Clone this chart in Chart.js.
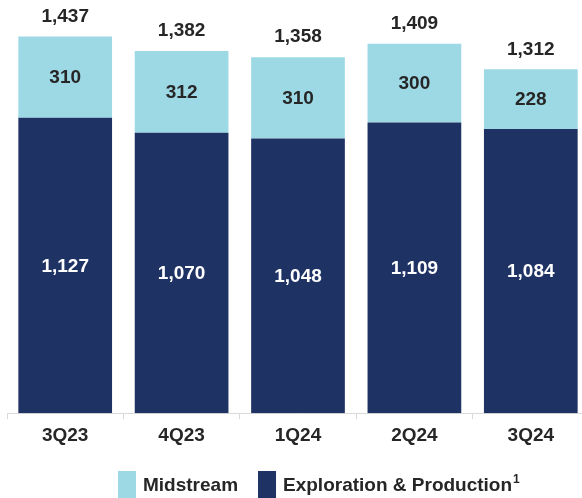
<!DOCTYPE html>
<html>
<head>
<meta charset="utf-8">
<script src="https://cdn.jsdelivr.net/npm/chart.js@4"></script>
<style>
  body { margin: 0; background: #fff; overflow: hidden; }
  #wrap { width: 590px; height: 498px; position: relative; }
</style>
</head>
<body>
<div id="wrap"><canvas id="segmentChart"></canvas></div>
<script>
const quarters = ['3Q23', '4Q23', '1Q24', '2Q24', '3Q24'];
const explorationProduction = [1127, 1070, 1048, 1109, 1084];
const midstream = [310, 312, 310, 300, 228];

const navy = '#1f3264';
const lightBlue = '#9dd8e5';
const textColor = '#262626';
const fontFamily = '"Liberation Sans", Arial, sans-serif';

Chart.defaults.font.family = fontFamily;
Chart.defaults.font.size = 19;
Chart.defaults.font.weight = 'bold';
Chart.defaults.color = textColor;

const fmt = v => v.toLocaleString('en-US');

// numbers inside each segment plus the total on top
const barLabels = {
  id: 'barLabels',
  afterDatasetsDraw(chart) {
    const ctx = chart.ctx;
    ctx.save();
    ctx.font = 'bold 19px ' + fontFamily;
    ctx.textAlign = 'center';
    ctx.textBaseline = 'middle';
    chart.data.datasets.forEach((ds, i) => {
      chart.getDatasetMeta(i).data.forEach((bar, j) => {
        ctx.fillStyle = ds.labelColor;
        ctx.fillText(fmt(ds.data[j]), bar.x, (bar.y + bar.base) / 2 + 1);
      });
    });
    const topMeta = chart.getDatasetMeta(1);
    topMeta.data.forEach((bar, j) => {
      const total = explorationProduction[j] + midstream[j];
      ctx.fillStyle = textColor;
      ctx.fillText(fmt(total), bar.x, bar.y - 20);
    });
    ctx.restore();
  }
};

// legend drawn by hand so it sits where the original has it
const bottomLegend = {
  id: 'bottomLegend',
  afterDraw(chart) {
    const ctx = chart.ctx;
    const items = [chart.data.datasets[1], chart.data.datasets[0]];
    ctx.save();
    ctx.textBaseline = 'middle';
    ctx.textAlign = 'left';
    let x = 118;
    items.forEach(ds => {
      ctx.fillStyle = ds.backgroundColor;
      ctx.fillRect(x, 471, 18, 27);
      ctx.fillStyle = textColor;
      // footnote mark drawn as a small raised "1"
      const hasNote = ds.label.endsWith('¹');
      const main = hasNote ? ds.label.slice(0, -1) : ds.label;
      ctx.font = 'bold 19px ' + fontFamily;
      ctx.fillText(main, x + 25, 486);
      let w = ctx.measureText(main).width;
      if (hasNote) {
        ctx.font = 'bold 12px ' + fontFamily;
        ctx.fillText('1', x + 25 + w + 1, 480);
        w += 1 + ctx.measureText('1').width;
      }
      x += 25 + w + 20;
    });
    ctx.restore();
  }
};

new Chart(document.getElementById('segmentChart'), {
  type: 'bar',
  data: {
    labels: quarters,
    datasets: [
      {
        label: 'Exploration & Production¹',
        data: explorationProduction,
        backgroundColor: navy,
        labelColor: '#ffffff'
      },
      {
        label: 'Midstream',
        data: midstream,
        backgroundColor: lightBlue,
        labelColor: textColor
      }
    ]
  },
  options: {
    responsive: true,
    maintainAspectRatio: false,
    animation: false,
    layout: { padding: { top: 20, left: 7, right: 1, bottom: 46 } },
    datasets: {
      bar: { categoryPercentage: 1, barPercentage: 0.805 }
    },
    plugins: {
      legend: { display: false },
      tooltip: { enabled: false }
    },
    scales: {
      x: {
        stacked: true,
        grid: { drawOnChartArea: false, drawTicks: true, tickLength: 6, color: '#d9d9d9' },
        border: { color: '#d9d9d9' },
        ticks: { padding: 5, color: textColor }
      },
      y: {
        stacked: true,
        display: false,
        min: 0,
        max: 1500
      }
    }
  },
  plugins: [barLabels, bottomLegend]
});
</script>
</body>
</html>
